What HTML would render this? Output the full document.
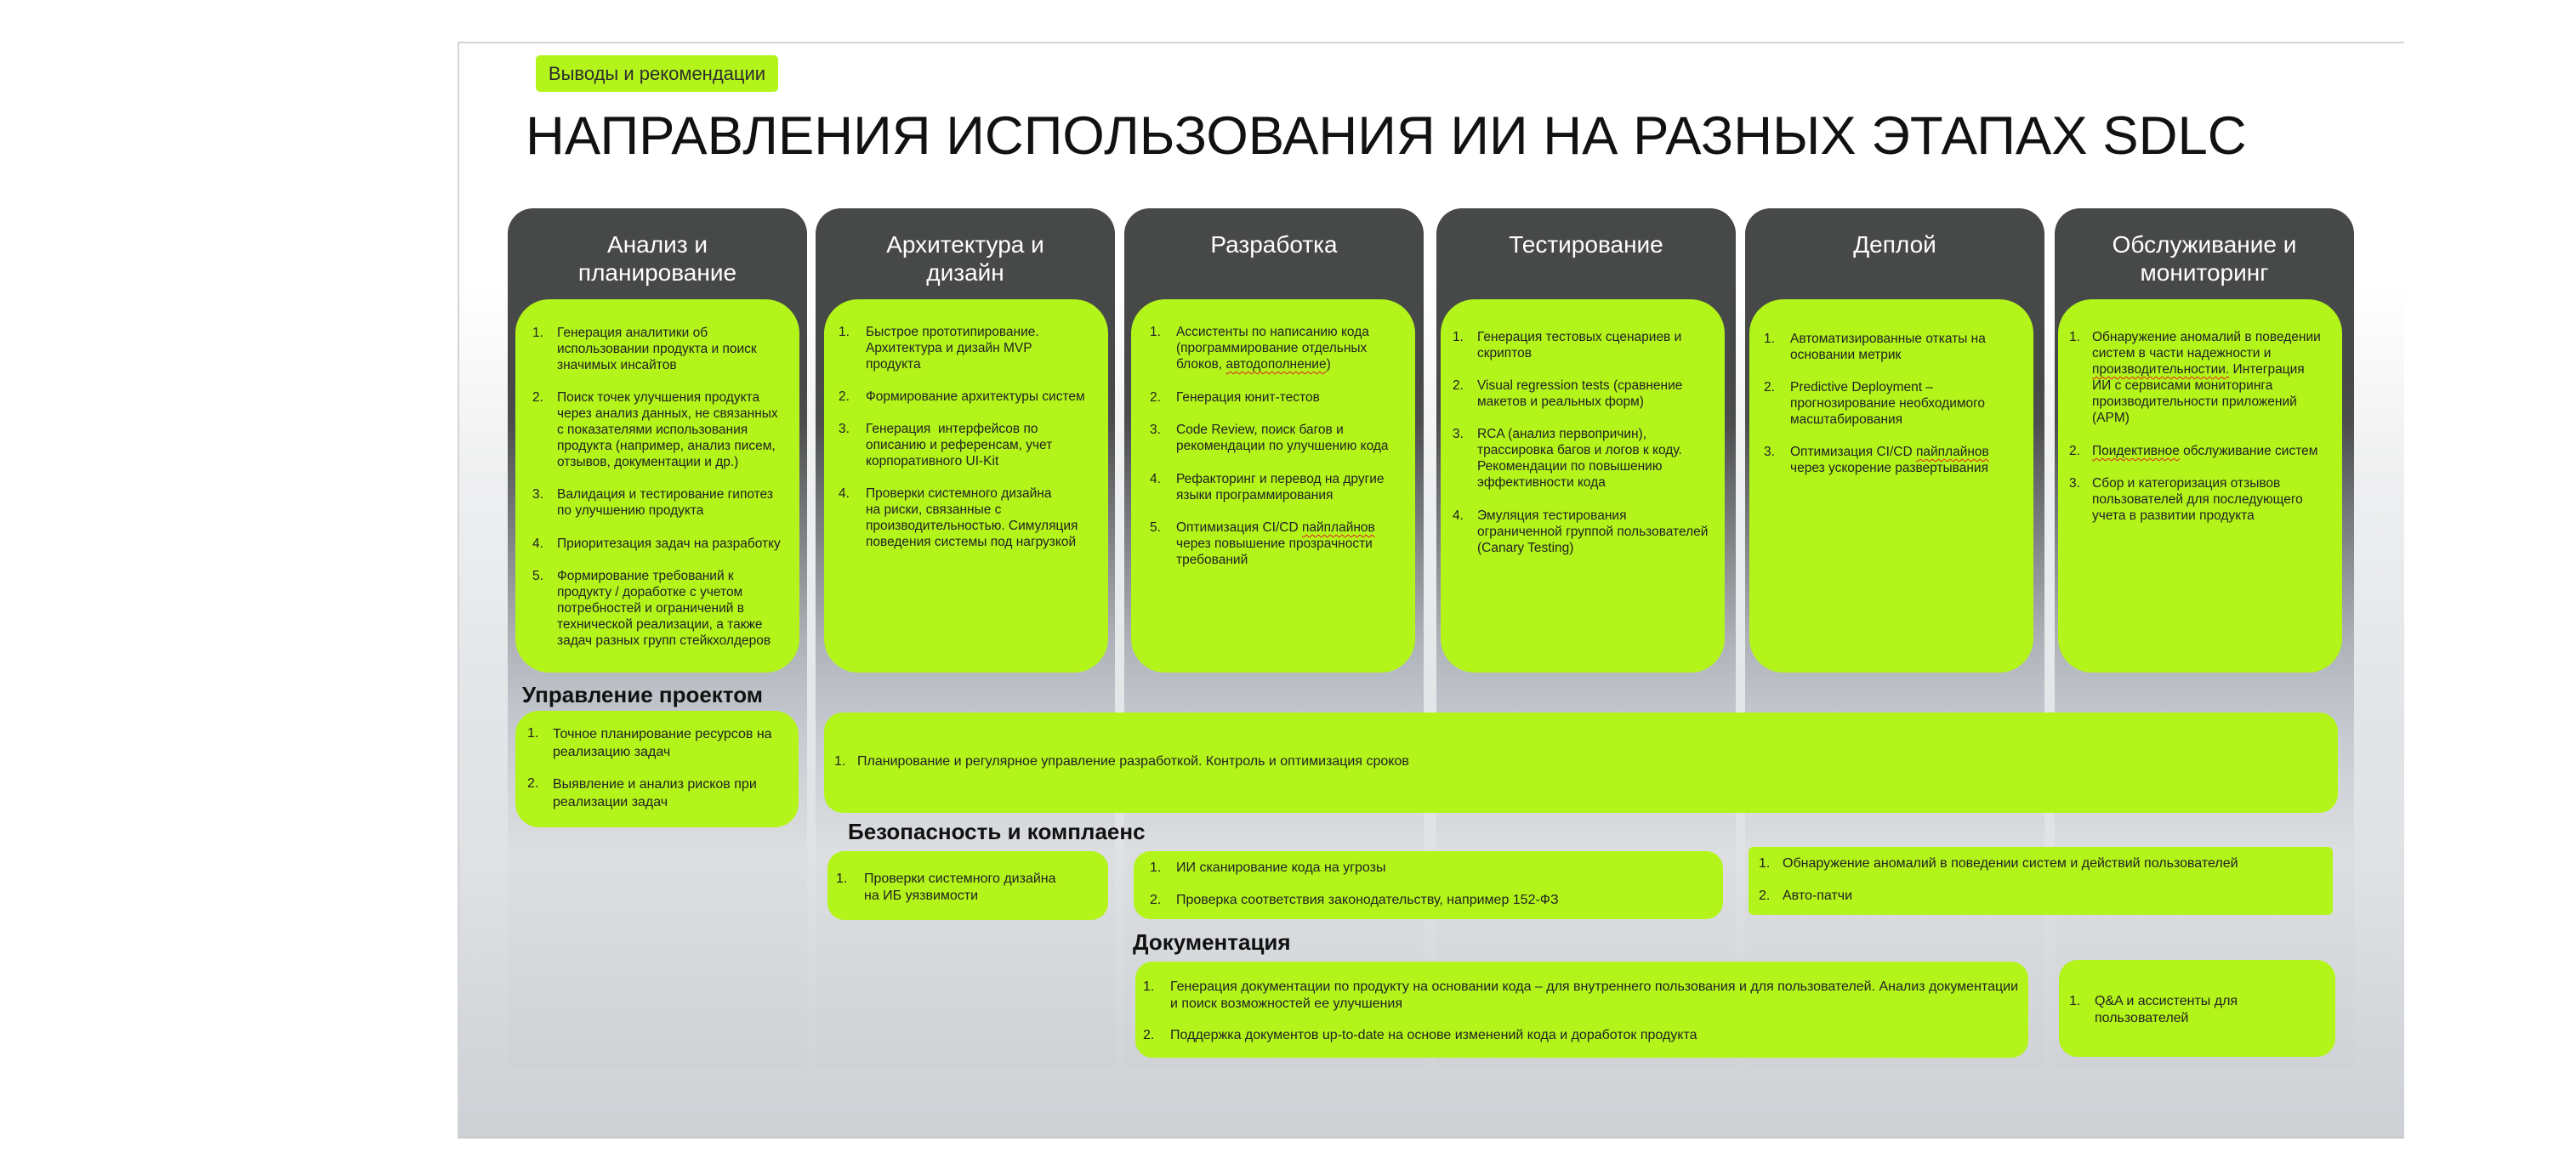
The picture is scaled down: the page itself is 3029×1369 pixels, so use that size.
<!DOCTYPE html>
<html><head><meta charset="utf-8">
<style>
*{margin:0;padding:0;box-sizing:border-box}
body{width:3029px;height:1369px;background:#fff;position:relative;overflow:hidden;font-family:"Liberation Sans",Arial,sans-serif;color:#1e1e1e}
.slide{position:absolute;left:538px;top:49px;width:2289px;height:1290px;border-top:2px solid #d4d4d4;border-left:2px solid #d4d4d4;border-bottom:2px solid #c9c9c9;
background:linear-gradient(to bottom,#ffffff 0%,#ffffff 22%,#eeeff0 40%,#e3e5e8 60%,#dfe1e4 75%,#cdd0d4 100%)}
.badge{position:absolute;left:630px;top:65px;width:285px;height:43px;background:#b3f41b;border-radius:5px;font-size:22px;line-height:43px;text-align:center;color:#2d2d2d}
.title{position:absolute;left:618px;top:129px;font-size:63.5px;line-height:62px;white-space:nowrap;color:#111}
.col{position:absolute;top:245px;width:352px;height:1010px;border-radius:30px 30px 0 0;
background:linear-gradient(to bottom,#474848 0%,#474848 20%,#4c4d4e 25%,#7e8184 38%,#adb1b7 50%,#bcc0c7 56%,#c8ccd2 62%,#dcdee1 75%,#d6d9dc 88%,#cfd2d6 100%)}
.hd{position:absolute;top:271px;width:352px;text-align:center;color:#fff;font-size:28px;line-height:33px}
.card{position:absolute;background:#b3f41b}
.it{position:absolute;font-size:15.5px;line-height:19px;white-space:nowrap;color:#222}
.lo{font-size:16px;line-height:20px}
.h2{position:absolute;font-weight:bold;font-size:26px;line-height:26px;white-space:nowrap;color:#111}
.sq{text-decoration:underline wavy #e02020;text-decoration-thickness:1px;text-underline-offset:3px}
</style></head><body>
<div class="slide"></div>
<div class="badge">Выводы и рекомендации</div>
<div class="title">НАПРАВЛЕНИЯ ИСПОЛЬЗОВАНИЯ ИИ НА РАЗНЫХ ЭТАПАХ SDLC</div>

<div class="col" style="left:597px"></div>
<div class="col" style="left:959px"></div>
<div class="col" style="left:1322px"></div>
<div class="col" style="left:1689px"></div>
<div class="col" style="left:2052px"></div>
<div class="col" style="left:2416px"></div>

<div class="hd" style="left:597px">Анализ и<br>планирование</div>
<div class="hd" style="left:959px">Архитектура и<br>дизайн</div>
<div class="hd" style="left:1322px">Разработка</div>
<div class="hd" style="left:1689px">Тестирование</div>
<div class="hd" style="left:2052px">Деплой</div>
<div class="hd" style="left:2416px">Обслуживание и<br>мониторинг</div>

<div class="card" style="left:606px;top:352px;width:334px;height:439px;border-radius:40px"></div>
<div class="card" style="left:969px;top:352px;width:334px;height:439px;border-radius:40px"></div>
<div class="card" style="left:1330px;top:352px;width:334px;height:439px;border-radius:40px"></div>
<div class="card" style="left:1694px;top:352px;width:334px;height:439px;border-radius:40px"></div>
<div class="card" style="left:2057px;top:352px;width:334px;height:439px;border-radius:40px"></div>
<div class="card" style="left:2420px;top:352px;width:334px;height:439px;border-radius:40px"></div>

<!-- col1 -->
<div class="it" style="left:626px;top:382px">1.</div><div class="it" style="left:655px;top:382px">Генерация аналитики об<br>использовании продукта и поиск<br>значимых инсайтов</div>
<div class="it" style="left:626px;top:458px">2.</div><div class="it" style="left:655px;top:458px">Поиск точек улучшения продукта<br>через анализ данных, не связанных<br>с показателями использования<br>продукта (например, анализ писем,<br>отзывов, документации и др.)</div>
<div class="it" style="left:626px;top:572px">3.</div><div class="it" style="left:655px;top:572px">Валидация и тестирование гипотез<br>по улучшению продукта</div>
<div class="it" style="left:626px;top:630px">4.</div><div class="it" style="left:655px;top:630px">Приоритезация задач на разработку</div>
<div class="it" style="left:626px;top:668px">5.</div><div class="it" style="left:655px;top:668px">Формирование требований к<br>продукту / доработке с учетом<br>потребностей и ограничений в<br>технической реализации, а также<br>задач разных групп стейкхолдеров</div>

<!-- col2 -->
<div class="it" style="left:986px;top:381px">1.</div><div class="it" style="left:1018px;top:381px">Быстрое прототипирование.<br>Архитектура и дизайн MVP<br>продукта</div>
<div class="it" style="left:986px;top:457px">2.</div><div class="it" style="left:1018px;top:457px">Формирование архитектуры систем</div>
<div class="it" style="left:986px;top:495px">3.</div><div class="it" style="left:1018px;top:495px">Генерация&nbsp; интерфейсов по<br>описанию и референсам, учет<br>корпоративного UI-Kit</div>
<div class="it" style="left:986px;top:571px">4.</div><div class="it" style="left:1018px;top:571px">Проверки системного дизайна<br>на риски, связанные с<br>производительностью. Симуляция<br>поведения системы под нагрузкой</div>

<!-- col3 -->
<div class="it" style="left:1352px;top:381px">1.</div><div class="it" style="left:1383px;top:381px">Ассистенты по написанию кода<br>(программирование отдельных<br>блоков, <span class="sq">автодополнение</span>)</div>
<div class="it" style="left:1352px;top:458px">2.</div><div class="it" style="left:1383px;top:458px">Генерация юнит-тестов</div>
<div class="it" style="left:1352px;top:496px">3.</div><div class="it" style="left:1383px;top:496px">Code Review, поиск багов и<br>рекомендации по улучшению кода</div>
<div class="it" style="left:1352px;top:554px">4.</div><div class="it" style="left:1383px;top:554px">Рефакторинг и перевод на другие<br>языки программирования</div>
<div class="it" style="left:1352px;top:611px">5.</div><div class="it" style="left:1383px;top:611px">Оптимизация CI/CD <span class="sq">пайплайнов</span><br>через повышение прозрачности<br>требований</div>

<!-- col4 -->
<div class="it" style="left:1708px;top:387px">1.</div><div class="it" style="left:1737px;top:387px">Генерация тестовых сценариев и<br>скриптов</div>
<div class="it" style="left:1708px;top:444px">2.</div><div class="it" style="left:1737px;top:444px">Visual regression tests (сравнение<br>макетов и реальных форм)</div>
<div class="it" style="left:1708px;top:501px">3.</div><div class="it" style="left:1737px;top:501px">RCA (анализ первопричин),<br>трассировка багов и логов к коду.<br>Рекомендации по повышению<br>эффективности кода</div>
<div class="it" style="left:1708px;top:597px">4.</div><div class="it" style="left:1737px;top:597px">Эмуляция тестирования<br>ограниченной группой пользователей<br>(Canary Testing)</div>

<!-- col5 -->
<div class="it" style="left:2074px;top:389px">1.</div><div class="it" style="left:2105px;top:389px">Автоматизированные откаты на<br>основании метрик</div>
<div class="it" style="left:2074px;top:446px">2.</div><div class="it" style="left:2105px;top:446px">Predictive Deployment –<br>прогнозирование необходимого<br>масштабирования</div>
<div class="it" style="left:2074px;top:522px">3.</div><div class="it" style="left:2105px;top:522px">Оптимизация CI/CD <span class="sq">пайплайнов</span><br>через ускорение развертывания</div>

<!-- col6 -->
<div class="it" style="left:2433px;top:387px">1.</div><div class="it" style="left:2460px;top:387px">Обнаружение аномалий в поведении<br>систем в части надежности и<br><span class="sq">производительностии.</span> Интеграция<br>ИИ с сервисами мониторинга<br>производительности приложений<br>(APM)</div>
<div class="it" style="left:2433px;top:521px">2.</div><div class="it" style="left:2460px;top:521px"><span class="sq">Поидективное</span> обслуживание систем</div>
<div class="it" style="left:2433px;top:559px">3.</div><div class="it" style="left:2460px;top:559px">Сбор и категоризация отзывов<br>пользователей для последующего<br>учета в развитии продукта</div>

<!-- Project management -->
<div class="h2" style="left:614px;top:804px">Управление проектом</div>
<div class="card" style="left:606px;top:836px;width:333px;height:137px;border-radius:28px"></div>
<div class="it lo" style="left:620px;top:853px">1.</div><div class="it lo" style="left:650px;top:853px;line-height:21px">Точное планирование ресурсов на<br>реализацию задач</div>
<div class="it lo" style="left:620px;top:912px">2.</div><div class="it lo" style="left:650px;top:912px;line-height:21px">Выявление и анализ рисков при<br>реализации задач</div>

<div class="card" style="left:969px;top:838px;width:1780px;height:118px;border-radius:22px"></div>
<div class="it lo" style="left:981px;top:886px">1.</div><div class="it lo" style="left:1008px;top:886px">Планирование и регулярное управление разработкой. Контроль и оптимизация сроков</div>

<!-- Security -->
<div class="h2" style="left:997px;top:965px">Безопасность и комплаенс</div>
<div class="card" style="left:973px;top:1001px;width:330px;height:81px;border-radius:20px"></div>
<div class="it lo" style="left:983px;top:1024px">1.</div><div class="it lo" style="left:1016px;top:1024px">Проверки системного дизайна<br>на ИБ уязвимости</div>
<div class="card" style="left:1333px;top:1001px;width:693px;height:80px;border-radius:20px"></div>
<div class="it lo" style="left:1352px;top:1011px">1.</div><div class="it lo" style="left:1383px;top:1011px">ИИ сканирование кода на угрозы</div>
<div class="it lo" style="left:1352px;top:1049px">2.</div><div class="it lo" style="left:1383px;top:1049px">Проверка соответствия законодательству, например 152-ФЗ</div>
<div class="card" style="left:2056px;top:996px;width:687px;height:80px;border-radius:6px"></div>
<div class="it lo" style="left:2068px;top:1006px">1.</div><div class="it lo" style="left:2096px;top:1006px">Обнаружение аномалий в поведении систем и действий пользователей</div>
<div class="it lo" style="left:2068px;top:1044px">2.</div><div class="it lo" style="left:2096px;top:1044px">Авто-патчи</div>

<!-- Documentation -->
<div class="h2" style="left:1332px;top:1095px">Документация</div>
<div class="card" style="left:1335px;top:1131px;width:1050px;height:113px;border-radius:20px"></div>
<div class="it lo" style="left:1344px;top:1151px">1.</div><div class="it lo" style="left:1376px;top:1151px">Генерация документации по продукту на основании кода – для внутреннего пользования и для пользователей. Анализ документации<br>и поиск возможностей ее улучшения</div>
<div class="it lo" style="left:1344px;top:1208px">2.</div><div class="it lo" style="left:1376px;top:1208px">Поддержка документов up-to-date на основе изменений кода и доработок продукта</div>
<div class="card" style="left:2421px;top:1129px;width:325px;height:114px;border-radius:22px"></div>
<div class="it lo" style="left:2433px;top:1168px">1.</div><div class="it lo" style="left:2463px;top:1168px">Q&amp;A и ассистенты для<br>пользователей</div>
</body></html>
